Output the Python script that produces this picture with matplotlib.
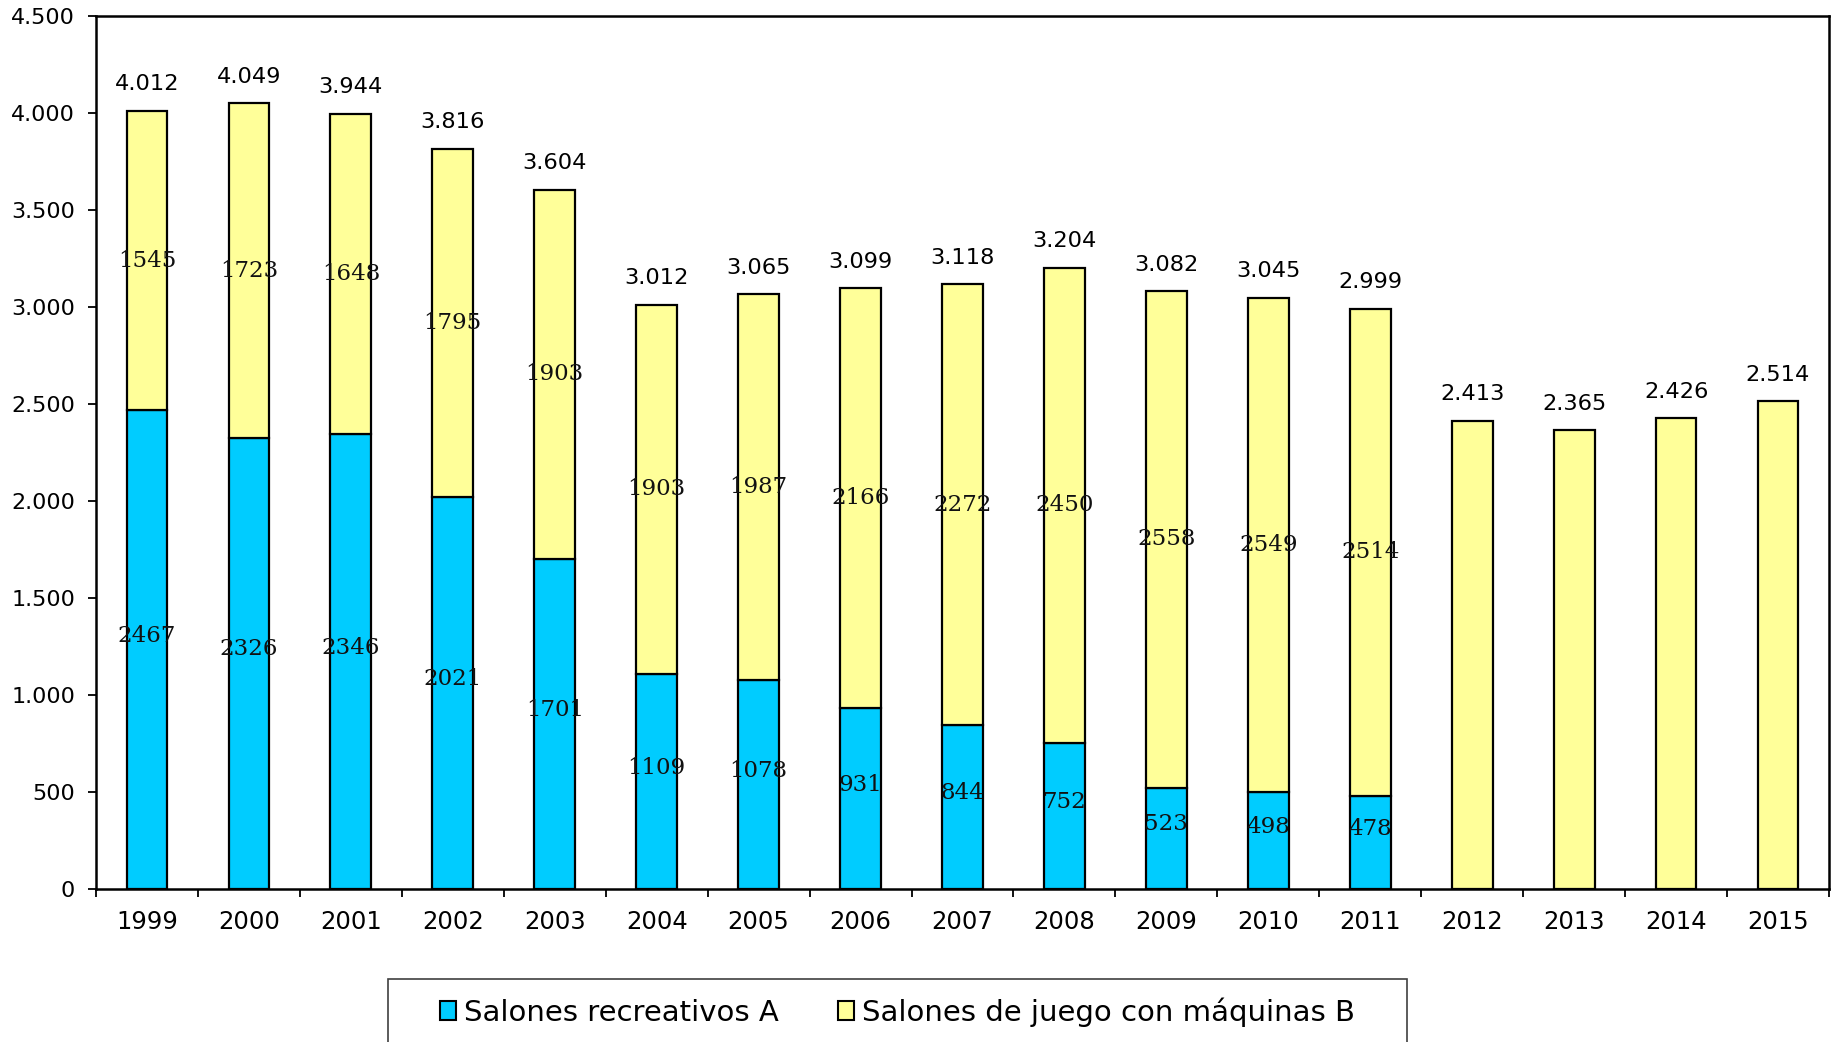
import numpy as np
import matplotlib
matplotlib.use("Agg")
import matplotlib.pyplot as plt
from matplotlib.patches import Patch, Rectangle
from matplotlib.ticker import FuncFormatter, FixedLocator

years = ["1999", "2000", "2001", "2002", "2003", "2004", "2005", "2006", "2007",
         "2008", "2009", "2010", "2011", "2012", "2013", "2014", "2015"]
salones_a = [2467, 2326, 2346, 2021, 1701, 1109, 1078, 931, 844, 752, 523, 498, 478,
             0, 0, 0, 0]
salones_b = [1545, 1723, 1648, 1795, 1903, 1903, 1987, 2166, 2272, 2450, 2558, 2549, 2514,
             2413, 2365, 2426, 2514]
total_labels = ["4.012", "4.049", "3.944", "3.816", "3.604", "3.012", "3.065", "3.099",
                "3.118", "3.204", "3.082", "3.045", "2.999", "2.413", "2.365", "2.426",
                "2.514"]
series_names = ["Salones recreativos A", "Salones de juego con máquinas B"]

BLUE = "#00CCFF"
YELLOW = "#FFFF99"

plt.rcParams["font.family"] = ["DejaVu Sans"]
fig = plt.figure(figsize=(18.34, 10.42), dpi=100)
ax = fig.add_axes([96 / 1834, 1 - 889 / 1042, (1829 - 96) / 1834, (889 - 16) / 1042])

x = np.arange(len(years))
a = np.array(salones_a, dtype=float)
b = np.array(salones_b, dtype=float)
width = 0.40

ax.bar(x, a, width, color=BLUE, edgecolor="black", linewidth=1.6, zorder=2)
ax.bar(x, b, width, bottom=a, color=YELLOW, edgecolor="black", linewidth=1.6, zorder=2)

# inner labels and totals
for i in range(len(years)):
    if a[i] > 0:
        ax.annotate(str(int(a[i])), (x[i], a[i] / 2), xytext=(0, 10), textcoords="offset points",
                    ha="center", va="center", fontsize=16.5, family="DejaVu Serif",
                    color="#111111", zorder=3)
        ax.annotate(str(int(b[i])), (x[i], a[i] + b[i] / 2), ha="center", va="center",
                    fontsize=16.5, family="DejaVu Serif", color="#111111", zorder=3)
    ax.annotate(total_labels[i], (x[i], a[i] + b[i]), xytext=(0, 12), textcoords="offset points",
                ha="center", va="bottom", fontsize=16.2, color="black", zorder=3)

ax.set_xlim(-0.5, len(years) - 0.5)
ax.set_ylim(0, 4500)
ax.set_yticks(np.arange(0, 4501, 500))
ax.yaxis.set_major_formatter(FuncFormatter(lambda v, p: f"{int(v):,}".replace(",", ".")))
ax.set_xticks(x)
ax.set_xticklabels(years)
ax.xaxis.set_minor_locator(FixedLocator(np.arange(-0.5, len(years), 1.0)))
ax.tick_params(axis="x", which="major", length=0, pad=15, labelsize=17.5)
ax.tick_params(axis="x", which="minor", length=6, width=1.3, direction="out")
ax.tick_params(axis="y", which="major", length=6, width=1.3, direction="out", pad=9, labelsize=16)

for s in ax.spines.values():
    s.set_linewidth(1.8)
    s.set_color("black")

# legend box
fig.patches.append(Rectangle((388 / 1834, -0.05), (1407 - 388) / 1834, 0.05 + 1 - 979 / 1042,
                             transform=fig.transFigure, facecolor="white",
                             edgecolor="#404040", linewidth=1.2, zorder=0))
handles = [Patch(facecolor=BLUE, edgecolor="black", linewidth=1.5, label=series_names[0]),
           Patch(facecolor=YELLOW, edgecolor="black", linewidth=1.5, label=series_names[1])]
fig.legend(handles=handles, loc="center", bbox_to_anchor=((388 + 1407) / 2 / 1834, 1 - 1012 / 1042),
           ncol=2, frameon=False, fontsize=21, handlelength=0.55, handleheight=0.65,
           handletextpad=0.28, columnspacing=2.0)

fig.savefig("out.png", dpi=100)
